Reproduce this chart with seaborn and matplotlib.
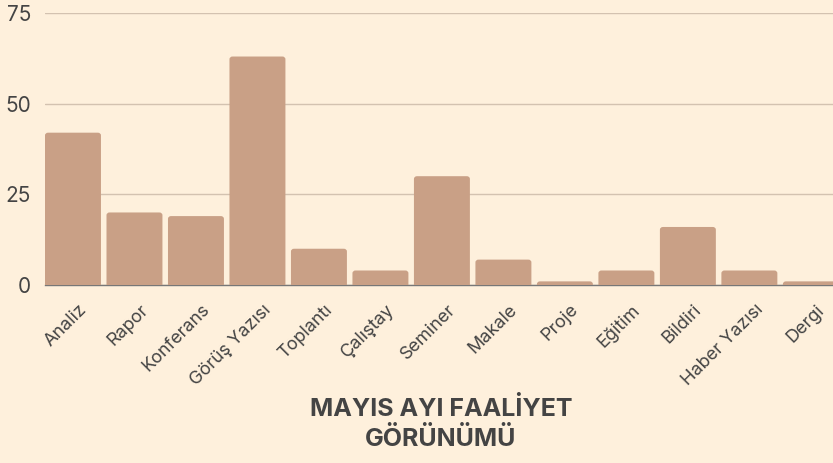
import matplotlib
matplotlib.use("Agg")
import matplotlib.pyplot as plt
import matplotlib.transforms as mtransforms
from matplotlib.patches import FancyBboxPatch
import seaborn as sns
import pandas as pd

# chart data
categories = ["Analiz", "Rapor", "Konferans", "Görüş Yazısı", "Toplantı", "Çalıştay",
              "Seminer", "Makale", "Proje", "Eğitim", "Bildiri", "Haber Yazısı", "Dergi"]
values = [42, 20, 19, 63, 10, 4, 30, 7, 1, 4, 16, 4, 1]
y_ticks = [0, 25, 50, 75]
title = "MAYIS AYI FAALİYET\nGÖRÜNÜMÜ"

bg = "#FEF0DC"
bar_color = "#C9A086"
text_color = "#444444"

sns.set_theme(style="white")
plt.rcParams["font.family"] = ["Inter", "DejaVu Sans"]

df = pd.DataFrame({"kategori": categories, "adet": values})

fig = plt.figure(figsize=(8.33, 4.63), dpi=100, facecolor=bg)
ax = fig.add_axes([45 / 833, 1 - 285 / 463, 1 - 45 / 833, (285 - 13) / 463])
ax.set_facecolor(bg)

sns.barplot(data=df, x="kategori", y="adet", color=bar_color, saturation=1,
            width=0.91, linewidth=0, ax=ax, zorder=3)

# rounded tops: swap the bars for rounded patches that start just below zero
for p in list(ax.patches):
    x, w, h = p.get_x(), p.get_width(), p.get_height()
    rb = FancyBboxPatch((x, -1.5), w, h + 1.5, boxstyle="round,pad=0,rounding_size=0.05",
                        mutation_aspect=15, facecolor=bar_color, edgecolor="none", zorder=3)
    p.remove()
    ax.add_patch(rb)

ax.set_ylim(0, 75)
ax.set_xlim(-0.455, 12.36)
ax.set_yticks(y_ticks)
ax.yaxis.grid(True, color="#D3C2B0", linewidth=1, zorder=0)
ax.set_axisbelow(True)
for s in ["top", "right", "left"]:
    ax.spines[s].set_visible(False)
ax.spines["bottom"].set_color("#777777")
ax.spines["bottom"].set_linewidth(1)
ax.spines["bottom"].set_zorder(2)
ax.set_xlabel("")
ax.set_ylabel("")

ax.tick_params(axis="y", length=0, pad=10, labelsize=15, labelcolor=text_color)
ax.tick_params(axis="x", length=0, pad=16, labelsize=13, labelcolor=text_color)
offset = mtransforms.ScaledTranslation(11 / 100, 0, fig.dpi_scale_trans)
for lbl in ax.get_xticklabels():
    lbl.set_rotation(45)
    lbl.set_ha("right")
    lbl.set_va("center")
    lbl.set_rotation_mode("anchor")
    lbl.set_transform(lbl.get_transform() + offset)

fig.text(441 / 833, 1 - 424 / 463, title, ha="center", va="center", fontsize=18,
         fontweight="bold", color=text_color, linespacing=1.3)

fig.savefig("out.png", dpi=100, facecolor=bg)
